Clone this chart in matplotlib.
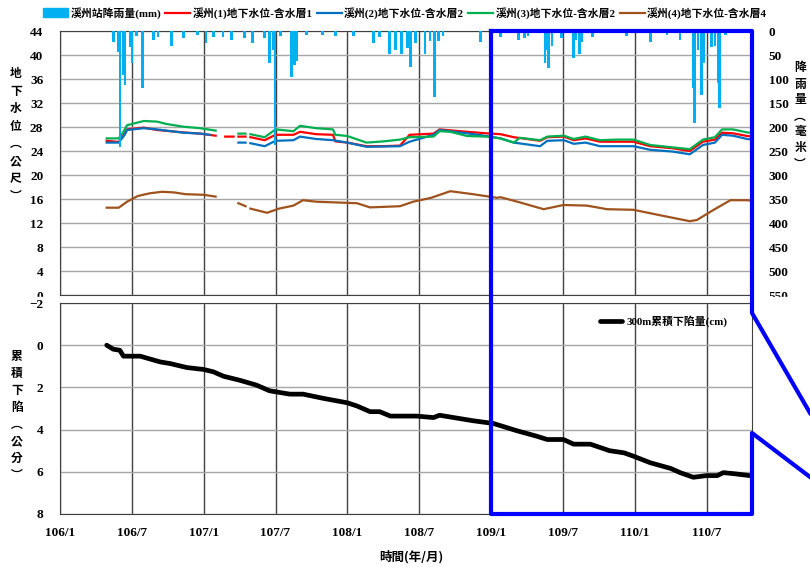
import numpy as np
import matplotlib
matplotlib.use('Agg')
import matplotlib.pyplot as plt
from matplotlib.lines import Line2D
from matplotlib.patches import Patch, Rectangle

plt.rcParams['font.family'] = ['Liberation Serif', 'Noto Sans CJK TC']
plt.rcParams['font.weight'] = 'bold'

nan = np.nan

# x values are months counted from 106/1
tick_pos = [0, 6, 12, 18, 24, 30, 36, 42, 48, 54]
tick_labels = ['106/1', '106/7', '107/1', '107/7', '108/1',
               '108/7', '109/1', '109/7', '110/1', '110/7']

# daily rainfall (mm)
rain_t = [4.45, 4.87, 5.0, 5.3, 5.43, 5.85, 6.0, 6.4, 6.9, 7.8, 8.2, 9.3, 10.3, 11.5,
          12.2, 12.8, 13.6, 14.35, 15.4, 16.1, 17.1, 17.5, 17.8, 17.95, 18.4, 19.35,
          19.6, 19.8, 20.6, 21.9, 23.0, 24.5, 26.2, 26.7, 27.5, 28.0, 28.5, 29.0, 29.3,
          29.7, 30.5, 30.9, 31.3, 31.6, 32.0, 35.1, 36.8, 38.3, 38.8, 39.1, 40.5, 40.65,
          40.8, 41.1, 41.9, 42.9, 43.1, 43.4, 43.6, 44.5, 47.3, 49.3, 50.7, 51.8, 52.9,
          53.0, 53.3, 53.6, 53.8, 54.4, 54.7, 55.0, 55.1, 55.6]
rain_mm = [22, 43, 241, 92, 112, 33, 67, 10, 119, 19, 13, 31, 15, 8,
           25, 12, 13, 19, 15, 25, 15, 67, 39, 238, 10, 95,
           71, 62, 8, 8, 10, 10, 25, 13, 47, 40, 47, 36, 74,
           24, 47, 20, 137, 20, 10, 22, 13, 19, 15, 10, 67, 39,
           78, 32, 15, 57, 18, 47, 23, 12, 10, 23, 8, 18, 119,
           192, 40, 133, 67, 33, 31, 109, 161, 8]

# groundwater level (m)
gw1_t = [3.9, 4.9, 5.4, 5.6, 7.0, 8.1, 10.3, 11.7, 13.0, nan, 13.8, 14.5, nan, 14.9, 15.5, nan,
         15.9, 17.1, 18.0, 19.5, 20.05, 21.4, 22.8, 23.0, 24.0, 25.6, 27.0, 28.4,
         29.2, 31.2, 31.7, 34.0, 35.6, 36.8, 37.9, 40.1, 40.7, 42.1, 42.9, 43.9, 45.1, 47.9,
         49.3, 51.2, 52.6, 53.7, 54.7, 55.3, 56.2, 57.4, 57.8]
gw1_v = [25.7, 25.5, 26.9, 27.6, 27.9, 27.5, 27.1, 26.9, 26.55, nan, 26.4, 26.4, nan, 26.4, 26.4, nan,
         26.3, 25.8, 26.7, 26.7, 27.2, 26.8, 26.7, 25.6, 25.4, 24.8, 24.8, 24.9,
         26.7, 26.9, 27.6, 27.2, 26.95, 26.8, 26.3, 25.7, 26.3, 26.4, 25.8, 26.1, 25.55, 25.55,
         24.8, 24.45, 24.0, 25.55, 25.9, 27.05, 26.95, 26.5, 26.4]

gw2_t = [3.9, 4.9, 5.4, 5.6, 7.0, 8.1, 10.3, 11.7, 12.5, nan, 14.9, 15.5, nan,
         15.9, 17.1, 18.0, 19.5, 20.05, 21.4, 22.8, 24.0, 25.6, 28.4,
         29.2, 31.2, 31.7, 34.0, 35.6, 36.8, 37.9, 40.1, 40.7, 42.1, 42.9, 43.9, 45.1, 47.9,
         49.3, 51.2, 52.6, 53.7, 54.7, 55.3, 56.2, 57.4, 57.8]
gw2_v = [25.4, 25.4, 26.7, 27.5, 27.8, 27.6, 27.05, 26.9, 26.7, nan, 25.4, 25.4, nan,
         25.3, 24.8, 25.7, 25.8, 26.4, 26.0, 25.8, 25.4, 24.7, 24.8,
         25.55, 26.7, 27.5, 26.95, 26.5, 26.1, 25.4, 24.8, 25.7, 25.8, 25.2, 25.4, 24.8, 24.8,
         24.2, 23.9, 23.45, 25.0, 25.4, 26.7, 26.55, 26.0, 25.9]

gw3_t = [3.9, 4.9, 5.3, 5.6, 7.0, 8.1, 8.9, 10.3, 11.7, 13.0, nan, 14.9, 15.5, nan,
         15.9, 17.1, 18.0, 19.5, 20.05, 21.4, 22.8, 23.0, 24.0, 25.6, 27.0, 28.4,
         29.2, 31.2, 31.7, 32.6, 34.0, 35.6, 36.8, 37.9, 38.4, 40.1, 40.7, 42.1, 42.9, 43.9,
         45.1, 46.5, 47.9, 49.3, 51.2, 52.6, 53.7, 54.7, 55.3, 56.2, 57.4, 57.8]
gw3_v = [26.1, 26.1, 27.2, 28.3, 29.0, 28.9, 28.5, 28.05, 27.8, 27.4, nan, 26.9, 26.9, nan,
         26.8, 26.3, 27.6, 27.3, 28.2, 27.8, 27.6, 26.7, 26.5, 25.4, 25.6, 25.9,
         26.3, 26.4, 27.3, 27.2, 26.5, 26.4, 26.1, 25.4, 26.2, 25.8, 26.4, 26.55, 26.0, 26.4,
         25.8, 25.9, 25.9, 25.0, 24.6, 24.3, 25.9, 26.3, 27.6, 27.6, 27.1, 27.0]

gw4_t = [3.9, 4.9, 5.6, 6.5, 7.5, 8.5, 9.5, 10.5, 12.0, 13.0, nan, 14.9, 15.5, nan,
         15.9, 17.3, 18.3, 19.5, 20.3, 21.4, 23.4, 24.8, 25.9, 28.4,
         29.5, 31.0, 32.6, 34.5, 36.5, 36.8, 38.2, 40.4, 42.05, 44.0, 45.7, 47.9,
         50.1, 52.6, 53.2, 54.6, 56.0, 57.4, 57.8]
gw4_v = [14.55, 14.55, 15.55, 16.5, 16.95, 17.2, 17.1, 16.8, 16.7, 16.4, nan, 15.3, 14.8, nan,
         14.4, 13.7, 14.4, 14.9, 15.8, 15.55, 15.4, 15.3, 14.6, 14.8,
         15.55, 16.2, 17.3, 16.8, 16.2, 16.3, 15.55, 14.3, 15.0, 14.9, 14.3, 14.2,
         13.3, 12.3, 12.5, 14.2, 15.8, 15.8, 15.7]

# cumulative subsidence at 300 m (cm)
sub_t = [3.9, 4.45, 5.0, 5.3, 6.7, 8.35, 9.2, 10.6, 12.0, 12.8,
         13.65, 15.0, 16.4, 17.5, 19.2, 20.3, 22.0, 24.0, 24.8, 25.9,
         26.7, 27.6, 29.8, 31.2, 31.7, 34.5, 36.2, 38.2, 39.8, 40.7,
         42.05, 42.9, 44.3, 45.9, 47.1, 47.9, 49.3, 51.0, 51.8, 52.9,
         54.0, 54.9, 55.4, 56.3, 57.6]
sub_cm = [0.0, 0.19, 0.24, 0.52, 0.52, 0.79, 0.87, 1.06, 1.15, 1.26,
          1.47, 1.66, 1.89, 2.16, 2.32, 2.32, 2.52, 2.73, 2.88, 3.15,
          3.15, 3.36, 3.36, 3.43, 3.32, 3.58, 3.71, 4.06, 4.31, 4.47,
          4.47, 4.69, 4.69, 5.0, 5.1, 5.26, 5.57, 5.84, 6.04, 6.26,
          6.18, 6.18, 6.04, 6.09, 6.18]

W, H = 810, 567
fig = plt.figure(figsize=(W / 100, H / 100), dpi=100)


def fx(px):
    return px / W


def fy(py):
    return 1 - py / H


x_max = 57.8
hgrid = '#a6a6a6'
vgrid = '#404040'

# ---- top panel: groundwater + rainfall
ax1 = fig.add_axes([fx(60), fy(295), fx(752) - fx(60), fy(31) - fy(295)])
ax1.set_xlim(0, x_max)
ax1.set_ylim(0, 44)
ax1.set_yticks(range(0, 45, 4))
ax1.set_xticks(tick_pos)
ax1.tick_params(axis='x', labelbottom=False, length=0)
ax1.tick_params(axis='y', length=0, labelsize=9.5, pad=12)
ax1.grid(axis='y', color=hgrid, lw=1)
ax1.grid(axis='x', color=vgrid, lw=1)
ax1.set_axisbelow(True)
for s in ax1.spines.values():
    s.set_color('#404040')

l1, = ax1.plot(gw1_t, gw1_v, color='#ff0000', lw=1.6)
l2, = ax1.plot(gw2_t, gw2_v, color='#0070c0', lw=1.6)
l3, = ax1.plot(gw3_t, gw3_v, color='#00b050', lw=1.6)
l4, = ax1.plot(gw4_t, gw4_v, color='#a0521c', lw=1.6)

ax_r = ax1.twinx()
ax_r.bar(rain_t, rain_mm, width=0.22, color='#00b0f0', align='center')
ax_r.set_ylim(550, 0)
ax_r.set_yticks(range(0, 551, 50))
ax_r.tick_params(axis='y', length=0, labelsize=9.5, pad=12)
for s in ax_r.spines.values():
    s.set_visible(False)

handles = [Patch(color='#00b0f0'), l1, l2, l3, l4]
labels = ['溪州站降雨量(mm)', '溪州(1)地下水位-含水層1', '溪州(2)地下水位-含水層2',
          '溪州(3)地下水位-含水層2', '溪州(4)地下水位-含水層4']
fig.legend(handles, labels, loc='center', bbox_to_anchor=(fx(405), fy(13)), ncol=5,
           frameon=False, fontsize=7.8, handlelength=2.3, handleheight=0.9,
           handletextpad=0.2, columnspacing=0.4, borderaxespad=0)

# ---- bottom panel: subsidence
ax2 = fig.add_axes([fx(60), fy(514), fx(752) - fx(60), fy(303) - fy(514)], zorder=3)
ax2.plot(sub_t, sub_cm, color='black', lw=3.4, solid_capstyle='round',
         label='300m累積下陷量(cm)')
ax2.set_xlim(0, x_max)
ax2.set_ylim(8, -2)
ax2.set_yticks(range(-2, 9, 2))
ax2.set_xticks(tick_pos)
ax2.set_xticklabels(tick_labels)
ax2.tick_params(axis='y', length=0, labelsize=9.5, pad=12)
ax2.tick_params(axis='x', length=0, labelsize=9.5, pad=9)
ax2.grid(axis='y', color=hgrid, lw=1)
ax2.grid(axis='x', color=vgrid, lw=1)
ax2.set_axisbelow(True)
for s in ax2.spines.values():
    s.set_color('#404040')
ax2.legend(loc='upper right', bbox_to_anchor=(fx(732), fy(311)),
           bbox_transform=fig.transFigure, frameon=False, fontsize=7.8,
           handlelength=2.0, handletextpad=0.45, borderaxespad=0)

# label clipping strip between the panels
fig.patches.append(Rectangle((0, fy(300)), 1, fy(296.5) - fy(300),
                             transform=fig.transFigure, color='white', zorder=2))

# stacked axis titles
cjk = 'Noto Sans CJK TC'
fig.text(fx(16), fy(135), '地\n下\n水\n位\n︵\n公\n尺\n︶', ha='center', va='center',
         fontsize=8.5, linespacing=1.45, family=cjk, weight='bold')
fig.text(fx(800), fy(116), '降\n雨\n量\n︵\n毫\n米\n︶', ha='center', va='center',
         fontsize=8.5, linespacing=1.3, family=cjk, weight='bold')
fig.text(fx(17), fy(416), '累\n積\n下\n陷\n︵\n公\n分\n︶', ha='center', va='center',
         fontsize=8.5, linespacing=1.4, family=cjk, weight='bold')
fig.text(fx(411), fy(557), '時間(年/月)', ha='center', va='center', fontsize=9,
         family=cjk, weight='bold')

# blue zoom call-out frame
blue = '#0000ff'
frame_x = [491, 752, 752, 810]
frame_y = [31, 31, 313, 413]
fig.add_artist(Line2D([fx(v) for v in frame_x], [fy(v) for v in frame_y],
                      color=blue, lw=3, transform=fig.transFigure, zorder=10))
frame_x2 = [810, 752, 752, 491, 491]
frame_y2 = [477, 433, 514, 514, 31]
fig.add_artist(Line2D([fx(v) for v in frame_x2], [fy(v) for v in frame_y2],
                      color=blue, lw=3, transform=fig.transFigure, zorder=10))

fig.savefig('out.png', dpi=100)
